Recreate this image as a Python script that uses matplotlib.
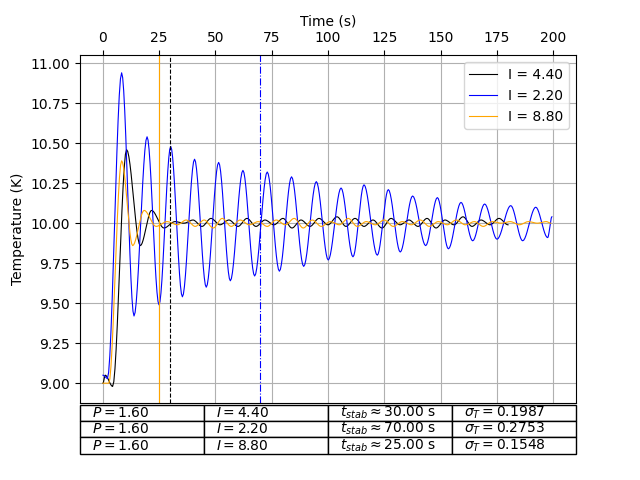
import numpy as np
from matplotlib import pyplot as plt

# blue, I = 2.20 : peaks / troughs
t_b = [0, 2, 8.3, 13.8, 19.6, 24.9, 30.1, 35.3, 40.7, 45.9, 51.4, 56.6, 62.2, 67.4, 73.0, 78.4,
       83.8, 89.2, 94.8, 100.1, 105.8, 111.1, 116.0, 121.9, 126.8, 132.1, 137.6, 143.4, 148.6,
       153.5, 159.1, 164.3, 169.6, 175.1, 181.2, 186.5, 192.3, 197.6, 199.5]
y_b = [9.05, 9.03, 10.94, 9.42, 10.54, 9.49, 10.48, 9.54, 10.40, 9.60, 10.38, 9.64, 10.33, 9.67,
       10.32, 9.70, 10.29, 9.73, 10.26, 9.77, 10.22, 9.79, 10.24, 9.80, 10.21, 9.82, 10.17, 9.86,
       10.16, 9.84, 10.13, 9.89, 10.12, 9.90, 10.11, 9.89, 10.10, 9.91, 10.04]

# black, I = 4.40
t_k = [0, 1, 4.3, 10.5, 16.6, 21.6, 27.1, 32, 36, 40, 44, 48, 52, 56, 60, 64, 68, 72, 76, 80, 84,
       88, 92, 96, 100, 104, 108, 112, 116, 120, 124, 128, 132, 136, 140, 144, 148, 152, 156,
       160, 164, 168, 172, 176, 180]
y_k = [9.0, 9.05, 8.98, 10.46, 9.86, 10.08, 9.97, 10.01, 10.00, 10.02, 9.98, 10.03, 9.99, 10.02,
       9.98, 10.03, 9.98, 10.02, 9.99, 10.03, 9.97, 10.02, 9.98, 10.03, 9.99, 10.04, 9.98, 10.03,
       9.98, 10.02, 9.97, 10.03, 9.99, 10.02, 9.98, 10.03, 9.97, 10.02, 9.99, 10.04, 9.98, 10.02,
       9.99, 10.03, 9.99]

# orange, I = 8.80
t_o = [0, 2.6, 8.3, 13.2, 18.3, 23.6, 28.5, 33, 37, 41, 45, 49, 53, 57, 61, 65, 69, 73, 77, 81,
       85, 89, 93, 97, 101, 105, 109, 113, 117, 121, 125, 129, 133, 137, 141, 145, 149, 153, 157,
       161, 165, 169, 173, 177, 181, 185, 189, 193, 197, 199]
y_o = [9.0, 9.0, 10.39, 9.86, 10.08, 9.98, 10.01, 9.99, 10.02, 9.98, 10.02, 9.97, 10.03, 9.98,
       10.02, 9.99, 10.01, 9.98, 10.02, 9.99, 10.03, 9.97, 10.02, 9.98, 10.01, 9.99, 10.03, 9.98,
       10.01, 9.99, 10.02, 9.98, 10.01, 9.99, 10.02, 9.98, 10.01, 9.99, 10.02, 9.99, 10.01, 9.98,
       10.01, 10.00, 10.01, 9.99, 10.01, 10.00, 10.01, 10.00]

labels = ["I = 4.40", "I = 2.20", "I = 8.80"]
t_stab = [30, 70, 25]
cells = [["$P = 1.60$", "$I = 4.40$", r"$t_{stab} \approx 30.00$ s", r"$\sigma_T = 0.1987$"],
         ["$P = 1.60$", "$I = 2.20$", r"$t_{stab} \approx 70.00$ s", r"$\sigma_T = 0.2753$"],
         ["$P = 1.60$", "$I = 8.80$", r"$t_{stab} \approx 25.00$ s", r"$\sigma_T = 0.1548$"]]


def smooth(t, y):
    # monotone cubic (hermite) between the read extrema, for a wavy line
    t = np.asarray(t, float); y = np.asarray(y, float)
    tt, yy = [], []
    for i in range(len(t) - 1):
        s = np.linspace(0, 1, 12, endpoint=False)
        h = 3 * s**2 - 2 * s**3
        tt.extend(t[i] + (t[i + 1] - t[i]) * s)
        yy.extend(y[i] + (y[i + 1] - y[i]) * h)
    tt.append(t[-1]); yy.append(y[-1])
    return tt, yy


fig = plt.figure(figsize=(6.4, 4.8), dpi=100)
ax = fig.add_axes([0.125, 0.16, 0.775, 0.725])
for (t, y), c, lab in zip([(t_k, y_k), (t_b, y_b), (t_o, y_o)], ["black", "blue", "orange"], labels):
    ax.plot(*smooth(t, y), color=c, lw=0.8, label=lab)
ax.axvline(t_stab[0], color="black", ls="--", lw=0.8)
ax.axvline(t_stab[1], color="blue", ls="-.", lw=0.8)
ax.axvline(t_stab[2], color="orange", ls="-", lw=0.8)

ax.set_xlim(-10.2, 210.2)
ax.set_ylim(8.875, 11.05)
ax.xaxis.tick_top()
ax.xaxis.set_label_position("top")
ax.set_xlabel("Time (s)")
ax.set_ylabel("Temperature (K)")
ax.grid(True)
ax.legend(loc="upper right")

tab = ax.table(cellText=cells, cellLoc="left", bbox=[0, -0.145, 1, 0.14])
tab.auto_set_font_size(False)
tab.set_fontsize(10)

plt.savefig("out.png")
